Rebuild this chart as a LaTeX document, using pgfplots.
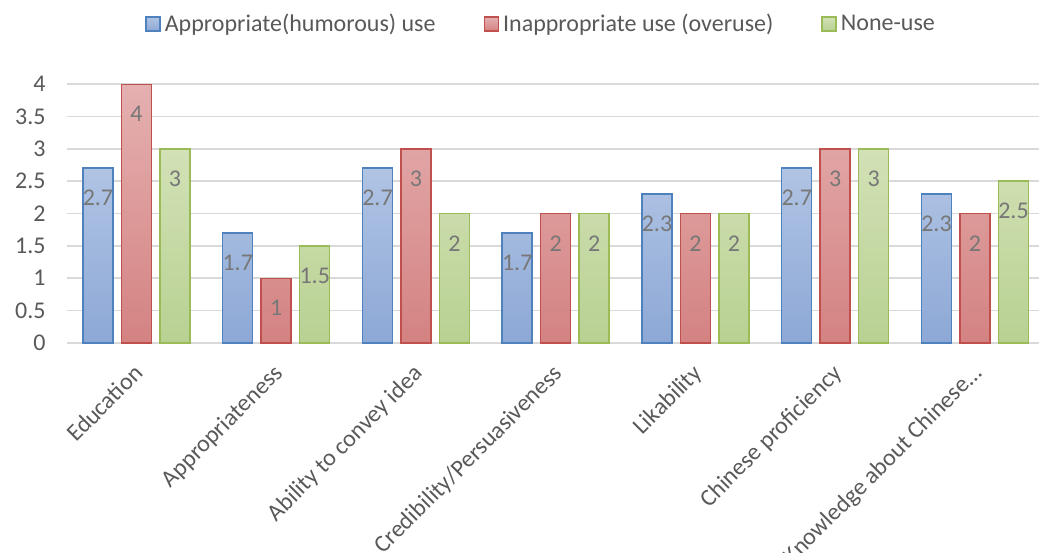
\documentclass[border=0pt]{standalone}
\usepackage{fontspec}
\setmainfont{Carlito}
\usepackage{pgfplots}
\pgfplotsset{compat=1.18}

\definecolor{blueEdge}{HTML}{4F81BD}
\definecolor{blueTop}{HTML}{B0C4E4}
\definecolor{blueBot}{HTML}{8DA8D6}
\definecolor{redEdge}{HTML}{C0504D}
\definecolor{redTop}{HTML}{E5B0B0}
\definecolor{redBot}{HTML}{D48282}
\definecolor{greenEdge}{HTML}{9BBB59}
\definecolor{greenTop}{HTML}{D2E1B6}
\definecolor{greenBot}{HTML}{B8D192}
\definecolor{gridGray}{HTML}{D9D9D9}
\definecolor{textGray}{HTML}{595959}
\definecolor{labelGray}{HTML}{777777}

\begin{document}
\begin{tikzpicture}
\path[use as bounding box] (-33.3pt,-104.5pt) rectangle (486.2pt,171.5pt);
\begin{axis}[
  at={(0,0)}, anchor=south west,
  scale only axis,
  width=486.2pt, height=129.5pt,
  ybar, bar width=15pt,
  xmin=-0.5, xmax=6.458,
  ymin=0, ymax=4,
  ytick={0,0.5,...,4},
  xtick={0,...,6},
  xticklabels={Education, Appropriateness, Ability to convey idea, Credibility/Persuasiveness, Likability, Chinese proficiency, Knowledge about Chinese…},
  major tick length=0pt,
  axis line style={draw=none},
  ymajorgrids,
  grid style={gridGray, line width=0.8pt},
  tick label style={font=\fontsize{12}{14}\selectfont, text=textGray},
  /pgf/number format/assume math mode=true,
  yticklabel style={xshift=-7pt},
  xticklabel style={xshift=-2pt, yshift=-5pt, rotate=45, anchor=north east},
  nodes near coords,
  nodes near coords align={center},
  every node near coord/.append style={anchor=center, yshift=-15pt,
    font=\fontsize{12}{14}\selectfont, text=labelGray},
  legend columns=3,
  legend style={draw=none, at={(0.489,1.232)}, anchor=center,
    font=\fontsize{12}{14}\selectfont, text=textGray,
    /tikz/every even column/.append style={column sep=22pt},
    inner sep=0pt, row sep=0pt},
  legend image code/.code={\draw[#1] (0pt,-3.5pt) rectangle (7pt,3.5pt);},
  legend cell align=left,
]
\addplot+[bar shift=-19.25pt, draw=blueEdge, line width=0.75pt, top color=blueTop, bottom color=blueBot]
  coordinates {(0,2.7) (1,1.7) (2,2.7) (3,1.7) (4,2.3) (5,2.7) (6,2.3)};
\addplot+[bar shift=0pt, draw=redEdge, line width=0.75pt, top color=redTop, bottom color=redBot]
  coordinates {(0,4) (1,1) (2,3) (3,2) (4,2) (5,3) (6,2)};
\addplot+[bar shift=19.25pt, draw=greenEdge, line width=0.75pt, top color=greenTop, bottom color=greenBot]
  coordinates {(0,3) (1,1.5) (2,2) (3,2) (4,2) (5,3) (6,2.5)};
\legend{Appropriate(humorous) use, Inappropriate use (overuse), None-use}
\end{axis}
\end{tikzpicture}
\end{document}
